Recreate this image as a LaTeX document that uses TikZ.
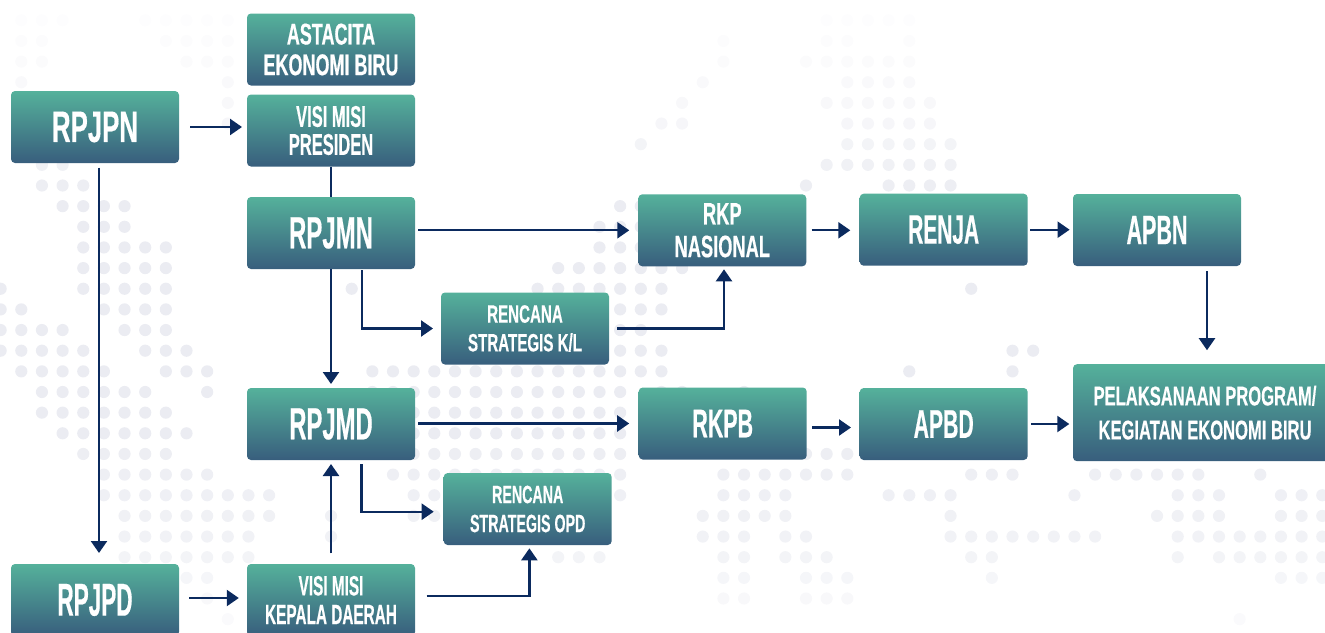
\documentclass[tikz,border=0pt]{standalone}
\usepackage{fontspec}
\usetikzlibrary{arrows.meta}
\definecolor{boxtop}{HTML}{55B19B}
\definecolor{boxbottom}{HTML}{385E7D}
\definecolor{linenavy}{HTML}{0B2A5E}
\definecolor{dotgray}{HTML}{EBECF2}
\tikzset{
         flowbox/.style=
          {
           rounded corners=4pt,
           top color=boxtop,
           bottom color=boxbottom,
           text=white,
           align=center,
           inner sep=0pt,
           outer sep=0pt,
           minimum width=168pt,
           minimum height=72pt
          },
         lbl/.style n args={3}{font={\fontspec[FakeStretch=#1,FakeBold=0.4,UprightFont=* Bold]{Liberation Sans}\fontsize{#2}{#3}\selectfont}},
         flowline/.style={line width=2.3pt,draw=linenavy},
         flowarrow/.style={flowline,-{Triangle[length=12pt,width=16pt]}}
        }
\begin{document}
\begin{tikzpicture}[x=1pt,y=-1pt]
\useasboundingbox (0,0) rectangle (1325,632);
% dotted map in the background
\foreach \rowy/\tint/\cols in {
  0/10/{0,1,2,6,7,8,9,10,39,40,41,42,43},
  1/15/{0,1,7,8,9,10,34,39,40,43},
  2/20/{0,1,8,9,10,34,38,39,40,41,42,43},
  3/30/{0,10,33,40,41,42,43},
  4/35/{10,32,39,40,41,42,43,44},
  5/45/{10,31,32,40,41,42,43,44},
  6/60/{30,40,41,42,43,44,45},
  7/75/{1,2,39,40,41,42,43,44,45},
  8/90/{1,2,3,38,42,43,44,45},
  9/100/{2,3,4,5,29,30},
  10/100/{3,4,5,28,29,30},
  11/100/{3,4,5,6,7,28,29,30},
  12/100/{3,4,5,6,7,26,27,28,29,30,31,32},
  13/100/{-1,3,4,5,6,7,16,25,26,27,28,29,30,31,46},
  14/100/{-1,0,4,5,6,7,29,30,31},
  15/100/{-1,0,1,2,5,6,7,29,30},
  16/100/{-1,0,1,2,3,6,7,8,29,30,31,48,49},
  17/100/{0,1,2,3,4,7,8,9,17,18,19,20,21,22,23,24,25,26,27,28,29,30,31,43,48},
  18/100/{1,2,3,4,5,6,9,17,18,19,20,21,22,23,24,25,26,27,28,29,31,32,35},
  19/100/{1,2,3,4,5,6,7,19,20,21,22,23,24,25,26,27,28,29},
  20/100/{2,3,4,5,6,7,8,19,20,21,22,23,24,25,26,27,28,29},
  21/90/{3,4,5,6,7,19,20,21,22,23,24,25,26,27,28,29,38,39,40},
  22/85/{4,5,6,7,8,9,18,19,20,21,22,23,24,25,26,27,28,29,34,35,36,37,38,39,40,46,47,48,52,53,54,55,56,57,60},
  23/80/{4,5,6,7,8,9,10,11,12,19,20,21,22,23,24,25,26,27,28,29,34,35,36,37,42,43,44,45,51,56,57,58,61,62,63},
  24/75/{5,6,7,8,9,10,11,12,15,19,20,33,34,35,36,37,45,55,56,57,58,61,62,63},
  25/70/{5,6,7,8,9,10,11,15,33,34,35,37,38,45,46,47,48,49,50,51,52,56,57,58,59,60,61,62,63},
  26/60/{5,6,7,8,9,10,11,26,27,28,34,35,37,38,39,46,47,56,58,59,60,61,62,63},
  27/50/{8,9,34,35,38,39,40,47,61,62,63},
  28/35/{9,34,35,38,39,40},
  29/25/{10,59}}
  \foreach \i in \cols
    \fill[dotgray!\tint!white] ({21.3+20.65*\i},{20.3+20.65*\rowy}) circle (6.1pt);
\node[flowbox,lbl={.6}{30}{30.7}] (astacita) at (331,49.5) {ASTACITA\\EKONOMI BIRU};
\node[flowbox,lbl={.55}{30}{28}] (visipres) at (331,130.5) {VISI MISI\\PRESIDEN};
\node[flowbox,lbl={.586}{44}{46}] (rpjpn) at (95,127) {RPJPN};
\node[flowbox,lbl={.533}{45}{47}] (rpjmn) at (331,233) {RPJMN};
\node[flowbox,lbl={.53}{45}{47}] (rpjmd) at (331,424) {RPJMD};
\node[flowbox,lbl={.49}{46}{48}] (rpjpd) at (95,600) {RPJPD};
\node[flowbox,lbl={.548}{28}{28.7}] (visidaerah) at (331,600) {VISI MISI\\KEPALA DAERAH};
\node[flowbox,lbl={.605}{25}{28.7}] (renkl) at (525,328.5) {RENCANA\\STRATEGIS K/L};
\node[flowbox,lbl={.57}{25}{29}] (renopd) at (527.7,509) {RENCANA\\STRATEGIS OPD};
\node[flowbox,lbl={.59}{31}{32.7}] (rkp) at (722.3,230.3) {RKP\\NASIONAL};
\node[flowbox,lbl={.51}{41}{43}] (renja) at (943.7,229.7) {RENJA};
\node[flowbox,lbl={.525}{41}{43}] (apbn) at (1157,230) {APBN};
\node[flowbox,lbl={.536}{40}{42}] (rkpb) at (722.7,423.5) {RKPB};
\node[flowbox,lbl={.53}{40}{42}] (apbd) at (943.7,424) {APBD};
\node[flowbox,lbl={.614}{27}{34},minimum width=264pt,minimum height=97pt] (pelak) at (1205,412.7) {PELAKSANAAN PROGRAM/\\KEGIATAN EKONOMI BIRU};
\draw[flowarrow,shorten <=11pt,shorten >=5pt] (rpjpn.east) -- (rpjpn.east -| visipres.west); % presiden
\draw[flowarrow,shorten <=4.5pt,shorten >=11pt] ([xshift=4pt]rpjpn.south) -- ([xshift=4pt]rpjpd.north); % daerah
\draw[flowline] (visipres.south) -- (rpjmn.north); % wiring
\draw[flowarrow,shorten >=4pt] (rpjmn.south) -- (rpjmd.north);
\draw[flowarrow,shorten <=1pt,shorten >=8pt] ([xshift=30.7pt]rpjmn.south) |- (renkl.west); % K/L
\draw[flowarrow,shorten <=3pt,shorten >=9pt] (rkp.west -| rpjmn.east) -- (rkp.west);
\draw[flowarrow,shorten <=5.4pt,shorten >=9.4pt] (rkp.east) -- (rkp.east -| renja.west);
\draw[flowarrow,shorten <=2.3pt,shorten >=3.4pt] (renja.east) -- (renja.east -| apbn.west);
\draw[flowarrow,shorten <=5.4pt,shorten >=14pt] ([xshift=2pt]apbn.south -| pelak.north) -- ([xshift=2pt]pelak.north); % pelaksanaan
\draw[flowarrow,shorten <=8pt,shorten >=3pt] (renkl.east) -| ([xshift=1.7pt]rkp.south);
\draw[flowarrow,shorten <=3pt,shorten >=9.5pt] (rkpb.west -| rpjmd.east) -- (rkpb.west);
\draw[flowarrow,shorten <=5.4pt,shorten >=8.7pt] ([yshift=-4pt]rkpb.east) -- ([yshift=-4pt]rkpb.east -| apbd.west);
\draw[flowarrow,shorten <=3.3pt,shorten >=3.7pt] (apbd.east) -- (apbd.east -| pelak.west);
\draw[flowarrow,shorten <=4pt,shorten >=10pt] ([xshift=30.6pt]rpjmd.south) |- ([yshift=-2.7pt]renopd.west); % OPD
\draw[flowarrow,shorten <=10.7pt,shorten >=4pt] (visidaerah.north) -- (rpjmd.south);
\draw[flowarrow,shorten <=11.5pt,shorten >=3.3pt] ([yshift=4.3pt]visidaerah.east) -| ([xshift=1.7pt]renopd.south);
\draw[flowarrow,shorten <=10.4pt,shorten >=8.2pt] ([yshift=2pt]rpjpd.east) -- ([yshift=2pt]rpjpd.east -| visidaerah.west);
\end{tikzpicture}
\end{document}
